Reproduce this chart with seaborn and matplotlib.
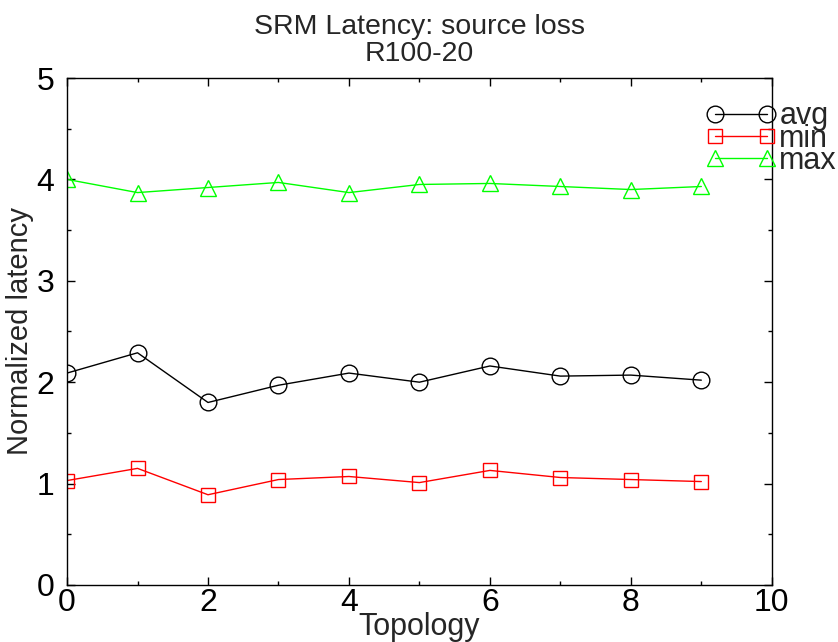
import matplotlib
matplotlib.use("Agg")
import matplotlib.pyplot as plt
from matplotlib.ticker import MultipleLocator
import numpy as np
import pandas as pd
import seaborn as sns

# Normalized SRM latency per topology
topology = list(range(10))
avg_latency = [2.09, 2.29, 1.80, 1.97, 2.09, 2.00, 2.16, 2.06, 2.07, 2.02]
min_latency = [1.03, 1.15, 0.89, 1.04, 1.07, 1.01, 1.13, 1.06, 1.04, 1.02]
max_latency = [4.00, 3.87, 3.92, 3.97, 3.87, 3.95, 3.96, 3.93, 3.90, 3.93]

series_names = ["avg", "min", "max"]
series_colors = {"avg": "#000000", "min": "#ff0000", "max": "#00ff00"}
series_markers = {"avg": "o", "min": "s", "max": "^"}
series_sizes = {"avg": 12, "min": 9.5, "max": 11.5}

df = pd.concat([
    pd.DataFrame({"Topology": topology, "latency": vals, "stat": name})
    for name, vals in zip(series_names, [avg_latency, min_latency, max_latency])
], ignore_index=True)

sns.set_style("ticks")
plt.rcParams["font.family"] = ["Liberation Sans", "DejaVu Sans"]

fig = plt.figure(figsize=(8.38, 6.42), dpi=100)
ax = fig.add_axes([0.080, 0.0888, 0.841, 0.7897])

for name in series_names:
    sub = df[df["stat"] == name]
    sns.lineplot(
        data=sub, x="Topology", y="latency", ax=ax,
        color=series_colors[name], marker=series_markers[name],
        markersize=series_sizes[name], markerfacecolor="none",
        markeredgecolor=series_colors[name], markeredgewidth=1.0,
        linewidth=1.0, label=name,
    )

ax.set_xlim(0, 10)
ax.set_ylim(0, 5)
ax.xaxis.set_major_locator(MultipleLocator(2))
ax.xaxis.set_minor_locator(MultipleLocator(1))
ax.yaxis.set_major_locator(MultipleLocator(1))
ax.yaxis.set_minor_locator(MultipleLocator(0.5))
ax.tick_params(which="both", direction="in", top=True, right=True,
               colors="black", width=1.0)
ax.tick_params(which="major", length=6, labelsize=23)
ax.tick_params(axis="x", which="major", pad=2)
ax.tick_params(axis="y", which="major", pad=9)
ax.tick_params(which="minor", length=3)
for sp in ax.spines.values():
    sp.set_visible(True)
    sp.set_color("black")
    sp.set_linewidth(1.0)

ax.set_xlabel("Topology", fontsize=22, labelpad=-4)
ax.set_ylabel("Normalized latency", fontsize=21, labelpad=2)
ax.set_title("SRM Latency: source loss\nR100-20", fontsize=20.5,
             linespacing=1.05, pad=12)

handles, labels = ax.get_legend_handles_labels()
ax.legend(handles, labels, loc="upper left",
          bbox_to_anchor=(0.8425, 0.842), bbox_transform=fig.transFigure,
          frameon=False, fontsize=22, numpoints=2, handlelength=2.3,
          handletextpad=0.1, labelspacing=-0.25, borderpad=0,
          borderaxespad=0)

fig.savefig("out.png", dpi=100)
